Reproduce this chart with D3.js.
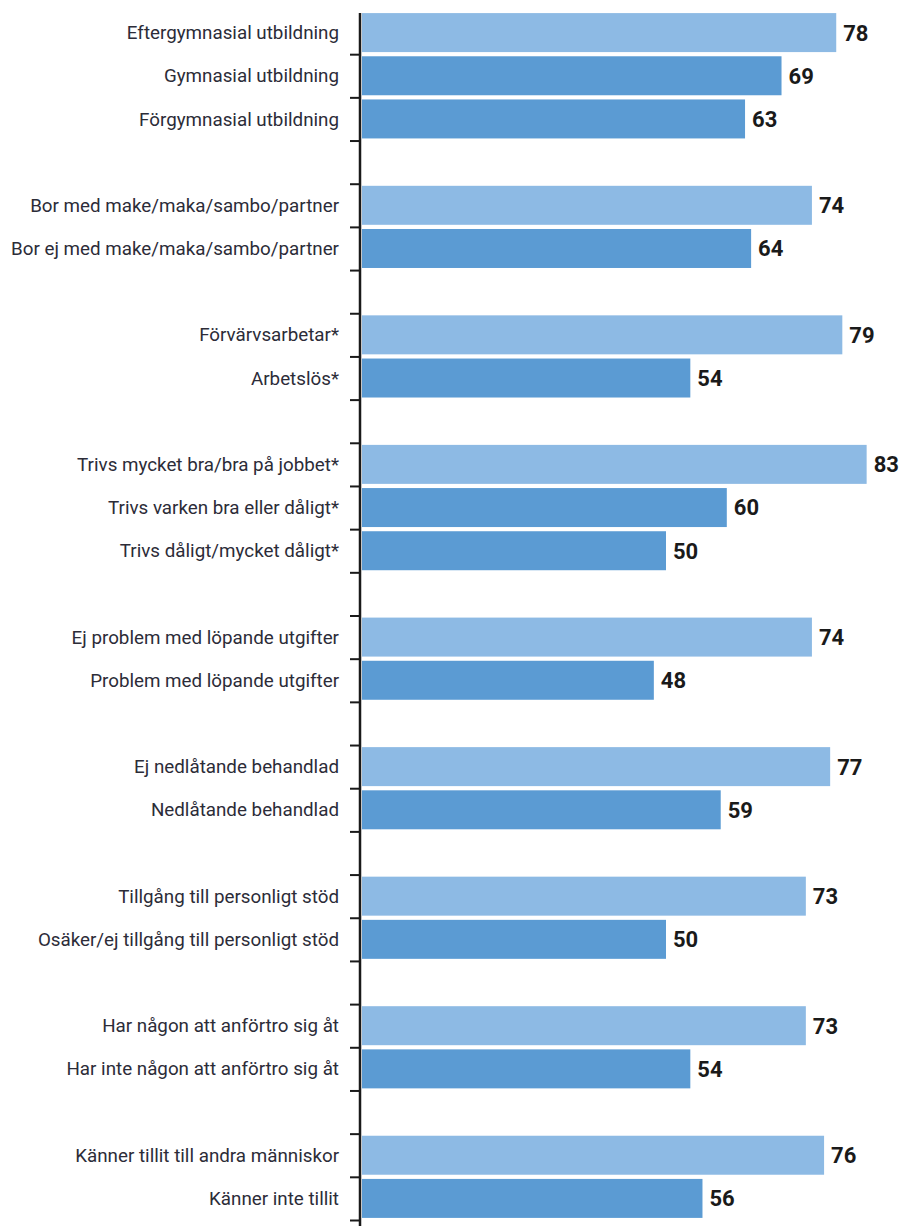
<!DOCTYPE html>
<html lang="sv">
<head>
<meta charset="utf-8">
<title>Andel per grupp</title>
<script src="https://cdn.jsdelivr.net/npm/d3@7"></script>
<style>
  body { margin: 0; background: #fff; }
  svg { display: block; }
</style>
</head>
<body>
<script>
// one entry per bar, top to bottom
var labels = [
  "Eftergymnasial utbildning", "Gymnasial utbildning", "Förgymnasial utbildning",
  "Bor med make/maka/sambo/partner", "Bor ej med make/maka/sambo/partner",
  "Förvärvsarbetar*", "Arbetslös*",
  "Trivs mycket bra/bra på jobbet*", "Trivs varken bra eller dåligt*", "Trivs dåligt/mycket dåligt*",
  "Ej problem med löpande utgifter", "Problem med löpande utgifter",
  "Ej nedlåtande behandlad", "Nedlåtande behandlad",
  "Tillgång till personligt stöd", "Osäker/ej tillgång till personligt stöd",
  "Har någon att anförtro sig åt", "Har inte någon att anförtro sig åt",
  "Känner tillit till andra människor", "Känner inte tillit"
];
var values = [78, 69, 63, 74, 64, 79, 54, 83, 60, 50, 74, 48, 77, 59, 73, 50, 73, 54, 76, 56];
var groupSizes = [3, 2, 2, 3, 2, 2, 2, 2, 2];

var w = 903, h = 1226;

// rows: bars plus an empty row between groups
var rows = [];
var k = 0;
groupSizes.forEach(function(n, g) {
  if (g > 0) rows.push(null);
  for (var i = 0; i < n; i++) {
    rows.push({ label: labels[k], value: values[k], first: i == 0 });
    k++;
  }
});

var svg = d3.select("body").append("svg")
  .attr("width", w)
  .attr("height", h);

var x = d3.scaleLinear().domain([0, 100]).range([362, 970]);
var y = d3.scaleBand()
  .domain(d3.range(rows.length))
  .range([11, 1220])
  .paddingInner(0.097)
  .paddingOuter(0.0485);
var yEdge = d3.scaleLinear().domain([0, rows.length]).range([11, 1220]);

var data = rows.map(function(r, i) { return r ? Object.assign({ row: i }, r) : null; })
  .filter(function(d) { return d; });

svg.selectAll("rect.bar")
  .data(data)
  .enter()
  .append("rect")
  .attr("class", "bar")
  .attr("x", x(0))
  .attr("y", function(d) { return y(d.row); })
  .attr("width", function(d) { return x(d.value) - x(0); })
  .attr("height", y.bandwidth())
  .attr("fill", function(d) { return d.first ? "#8dbae4" : "#5b9bd3"; });

// axis with ticks between rows
var axis = d3.axisLeft(yEdge)
  .tickValues(d3.range(1, rows.length + 1))
  .tickFormat("")
  .tickSizeInner(10)
  .tickSizeOuter(0);

var gAxis = svg.append("g")
  .attr("transform", "translate(" + 360 + ",0)")
  .call(axis);
gAxis.select(".domain").remove();
gAxis.selectAll(".tick line").attr("stroke", "#1a1a1a").attr("stroke-width", 2);
gAxis.append("line")
  .attr("x1", 0).attr("x2", 0)
  .attr("y1", 13).attr("y2", h)
  .attr("stroke", "#1a1a1a")
  .attr("stroke-width", 2.5);

svg.selectAll("text.label")
  .data(data)
  .enter()
  .append("text")
  .attr("class", "label")
  .attr("x", 339)
  .attr("y", function(d) { return y(d.row) + y.bandwidth() / 2; })
  .attr("dy", "0.35em")
  .attr("text-anchor", "end")
  .attr("font-family", "Roboto, sans-serif")
  .attr("font-size", "18.8px")
  .attr("fill", "#2c2c38")
  .text(function(d) { return d.label; });

svg.selectAll("text.value")
  .data(data)
  .enter()
  .append("text")
  .attr("class", "value")
  .attr("x", function(d) { return x(d.value) + 7; })
  .attr("y", function(d) { return y(d.row) + y.bandwidth() / 2; })
  .attr("dy", "0.36em")
  .attr("font-family", "Roboto, sans-serif")
  .attr("font-weight", "bold")
  .attr("font-size", "22px")
  .attr("fill", "#1a1a1a")
  .text(function(d) { return d.value; });
</script>
</body>
</html>
